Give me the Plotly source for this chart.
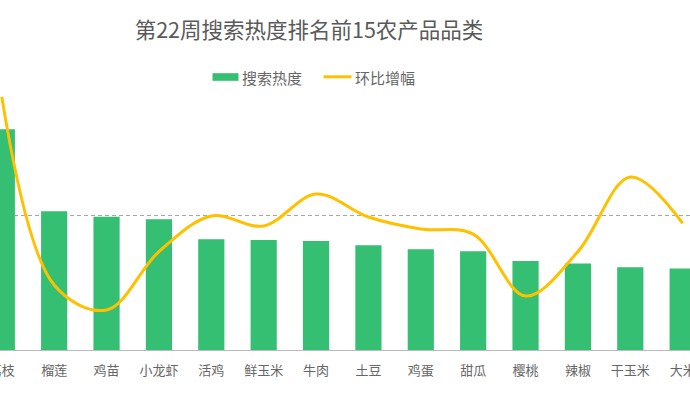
import plotly.graph_objects as go

categories = ["荔枝", "榴莲", "鸡苗", "小龙虾", "活鸡", "鲜玉米", "牛肉", "土豆",
              "鸡蛋", "甜瓜", "樱桃", "辣椒", "干玉米", "大米"]
search_heat = [8174, 5137, 4937, 4841, 4100, 4074, 4037, 3878,
               3730, 3656, 3296, 3204, 3063, 3019]
mom_growth = [70.0, -41.5, -56.3, -21.7, -0.6, -6.5, 12.4, -1.2,
              -8.3, -11.3, -48.0, -21.7, 22.5, -4.9]

title_text = "第22周搜索热度排名前15农产品品类"
legend_names = ["搜索热度", "环比增幅"]

W, H = 690, 396
T, B = 80, 46
PH = H - T - B
FONT = "Noto Sans CJK SC, Microsoft YaHei, sans-serif"
GREEN = "#34BF72"
YELLOW = "#FFC000"
GRAY = "#666666"

def px_x(p):
    return p / W

def px_y(p):
    return (H - B - p) / PH

fig = go.Figure()
fig.add_trace(go.Bar(
    x=categories, y=search_heat, name=legend_names[0],
    marker=dict(color=GREEN, line=dict(width=0)),
    yaxis="y", showlegend=False,
))
fig.add_trace(go.Scatter(
    x=categories, y=mom_growth, name=legend_names[1],
    mode="lines", line=dict(color=YELLOW, width=3, shape="spline", smoothing=1.0),
    yaxis="y2", showlegend=False,
))

# manual legend
shapes = [
    dict(type="rect", xref="paper", yref="paper",
         x0=px_x(212.5), x1=px_x(238.5), y0=px_y(80.8), y1=px_y(73.2),
         fillcolor=GREEN, line=dict(width=0)),
    dict(type="line", xref="paper", yref="paper",
         x0=px_x(323.5), x1=px_x(351.5), y0=px_y(76.8), y1=px_y(76.8),
         line=dict(color=YELLOW, width=3)),
]
annotations = [
    dict(text=legend_names[0], xref="paper", yref="paper", x=px_x(240), y=px_y(77),
         xanchor="left", yanchor="middle", showarrow=False,
         font=dict(family=FONT, size=15, color=GRAY)),
    dict(text=legend_names[1], xref="paper", yref="paper", x=px_x(352.5), y=px_y(77),
         xanchor="left", yanchor="middle", showarrow=False,
         font=dict(family=FONT, size=15, color=GRAY)),
]

fig.update_layout(
    template="none",
    width=W, height=H,
    margin=dict(l=0, r=0, t=T, b=B, pad=0, autoexpand=False),
    paper_bgcolor="white", plot_bgcolor="white",
    title=dict(text=title_text, x=309 / W, xanchor="center",
               y=1 - 30.5 / H, yanchor="middle", yref="container",
               font=dict(family=FONT, size=21.5, color="#595959")),
    bargap=0.5,
    shapes=shapes, annotations=annotations,
    xaxis=dict(type="category", range=[-0.0344, 13.140], automargin=False,
               showline=True, linecolor="#BBBBBB", linewidth=1,
               ticks="", showgrid=False, zeroline=False,
               tickfont=dict(family=FONT, size=13, color=GRAY),
               ticklabelstandoff=8,
               ticklabeloverflow="allow"),
    yaxis=dict(range=[0, 10000], tickvals=[5000], showticklabels=False,
               automargin=False,
               showgrid=True, gridcolor="#A6A6A6", griddash="4px,3px", gridwidth=1,
               zeroline=False, showline=False),
    yaxis2=dict(range=[-80, 80], overlaying="y", side="right", visible=False,
                automargin=False, showgrid=False, zeroline=False),
)

fig.write_html("out.html",
               config={"displayModeBar": False},
               post_script="document.body.style.margin='0';document.body.style.overflow='hidden';")
